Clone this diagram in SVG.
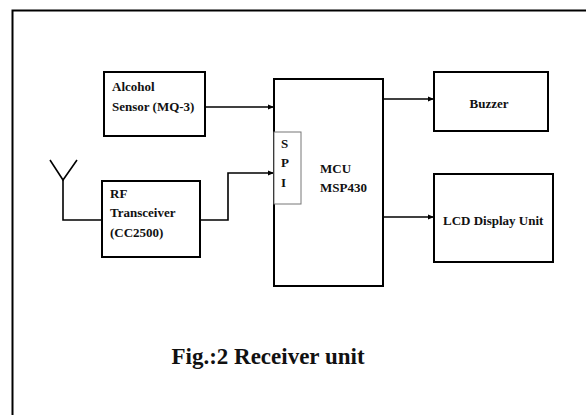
<svg xmlns="http://www.w3.org/2000/svg" width="586" height="415" viewBox="0 0 586 415">
<style>
.box{fill:#fff;stroke:#000;stroke-width:2}
.spi{fill:#fff;stroke:#777;stroke-width:1}
.t{font-family:"Liberation Serif","Times New Roman",serif;font-weight:bold;font-size:13px;fill:#111}
.w{fill:none;stroke:#000;stroke-width:1.6}
.cap{font-family:"Liberation Serif","Times New Roman",serif;font-weight:bold;font-size:23px;fill:#111}
</style>
<defs>
<marker id="ah" viewBox="0 0 10 10" refX="10" refY="5" markerWidth="6" markerHeight="6" markerUnits="userSpaceOnUse" orient="auto">
<path d="M0,1 L10,5 L0,9 z" fill="#000"/>
</marker>
</defs>
<rect width="586" height="415" fill="#fff"/>
<path d="M12.5,415 V10.5 H586" fill="none" stroke="#000" stroke-width="2"/>
<g id="connectors">
<path class="w" d="M205,107 H274" marker-end="url(#ah)"/>
<path class="w" d="M200,220 H228 V173 H274" marker-end="url(#ah)"/>
<path class="w" d="M383,99 H434" marker-end="url(#ah)"/>
<path class="w" d="M383,217 H434" marker-end="url(#ah)"/>
<path class="w" d="M102,220 H63 V180"/>
</g>
<g id="antenna">
<path class="w" d="M50,160 L63,180 L77,160"/>
</g>
<g id="alcohol">
<rect class="box" x="104" y="72" width="101" height="64"/>
<text class="t" x="112" y="91">Alcohol</text>
<text class="t" x="112" y="111">Sensor (MQ-3)</text>
</g>
<g id="rf">
<rect class="box" x="102" y="181" width="98" height="76"/>
<text class="t" x="110" y="198">RF</text>
<text class="t" x="110" y="217">Transceiver</text>
<text class="t" x="110" y="237">(CC2500)</text>
</g>
<g id="mcu">
<rect class="box" x="274" y="79" width="109" height="207"/>
<rect class="spi" x="274" y="132" width="27" height="72"/>
<text class="t" x="281" y="148">S</text>
<text class="t" x="281" y="167">P</text>
<text class="t" x="281" y="187">I</text>
<text class="t" x="320" y="173">MCU</text>
<text class="t" x="320" y="192">MSP430</text>
</g>
<g id="buzzer">
<rect class="box" x="434" y="72" width="114" height="59"/>
<text class="t" x="489" y="108" text-anchor="middle">Buzzer</text>
</g>
<g id="lcd">
<rect class="box" x="434" y="174" width="119" height="88"/>
<text class="t" x="443" y="225">LCD Display Unit</text>
</g>
<g id="caption">
<text class="cap" x="268" y="364" text-anchor="middle">Fig.:2 Receiver unit</text>
</g>
</svg>
